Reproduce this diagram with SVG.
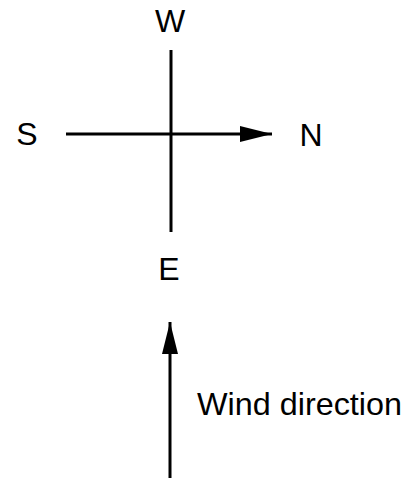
<svg xmlns="http://www.w3.org/2000/svg" width="413" height="482" viewBox="0 0 413 482">
<style>
text{font-family:"Liberation Sans",Arial,sans-serif;font-size:32px;fill:#000}
.ln{stroke:#000;stroke-width:3;fill:none}
</style>
<defs>
<marker id="ah" viewBox="0 0 32 16" refX="32" refY="8" markerWidth="32" markerHeight="16" markerUnits="userSpaceOnUse" orient="auto">
<path d="M0,0 L32,8 L0,16 Z" fill="#000"/>
</marker>
</defs>
<rect width="413" height="482" fill="#fff"/>
<g id="connectors">
<line class="ln" x1="171" y1="50" x2="171" y2="232"/>
<line class="ln" x1="66" y1="134" x2="272" y2="134" marker-end="url(#ah)"/>
<line class="ln" x1="170" y1="478" x2="170" y2="322" marker-end="url(#ah)"/>
</g>
<g id="W"><text x="170" y="32" text-anchor="middle">W</text></g>
<g id="S"><text x="27" y="145" text-anchor="middle">S</text></g>
<g id="N"><text x="311" y="146" text-anchor="middle">N</text></g>
<g id="E"><text x="169" y="280" text-anchor="middle">E</text></g>
<g id="wind"><text x="197" y="415" textLength="205" lengthAdjust="spacingAndGlyphs">Wind direction</text></g>
</svg>
